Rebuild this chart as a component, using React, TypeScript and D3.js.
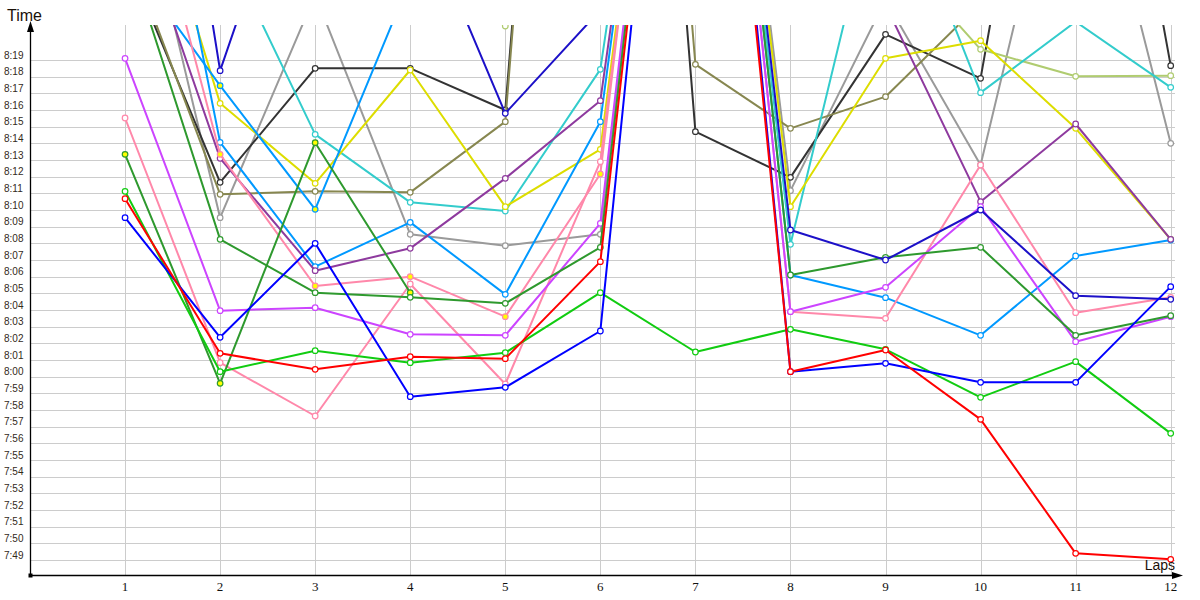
import React from "react";
import * as d3 from "d3";

// ---------- data ----------
const LAPS = [1, 2, 3, 4, 5, 6, 7, 8, 9, 10, 11, 12];
const X_TICK_LABELS = ["1", "2", "3", "4", "5", "6", "7", "8", "9", "10", "11", "12"];
const Y_TICK_LABELS = [
  "7:49", "7:50", "7:51", "7:52", "7:53", "7:54", "7:55", "7:56", "7:57", "7:58", "7:59",
  "8:00", "8:01", "8:02", "8:03", "8:04", "8:05", "8:06", "8:07", "8:08", "8:09",
  "8:10", "8:11", "8:12", "8:13", "8:14", "8:15", "8:16", "8:17", "8:18", "8:19",
];

// lap times in seconds (8:19 = 499); values above ~8:21 run off the top of the plot
const gray = [513.5, 489.54, 502.9, 488.54, 487.86, 488.54, 538, 491.16, 502.6, 492.7, 516.5, 494.0];
const darkGray = [505.3, 491.66, 498.5, 498.5, 496.0, 566, 494.7, 491.96, 500.54, 497.9, 530, 498.66];
const olive = [506.1, 490.94, 491.12, 491.06, 495.3, 567, 498.74, 494.9, 496.8, 502.4, 512, 512];
const lightOlive = [null, null, null, 512, 501.04, 512, 540, 515, 506, 499.64, 498.02, 498.06];
const cyan = [510, 506.4, 494.54, 490.46, 489.94, 498.44, 537, 487.94, 511.5, 497.04, 501.3, 497.36];
const yellow = [515, 496.4, 491.6, 498.4, 490.2, 493.64, 538, 490.2, 499.1, 500.16, 494.9, 488.24];
const lightBlueA = [505.3, 497.46, 490.04, 503.8, null, null, null, null, null, null, null, null];
const lightBlueB = [522.7, 494.06, 486.6, 489.26, 484.94, 495.3, 538, 486.1, 484.74, 482.48, 487.24, 488.2];
const purple = [509.6, 493.1, 486.36, 487.7, 491.9, 496.56, 537, 510, 502.3, 490.5, 495.16, 488.24];
const pinkB = [515, 493.34, 485.44, 486.0, 483.6, 492.16, 540, null, null, null, null, null];
const pinkA = [495.52, 480.84, 477.64, 485.56, 479.56, 492.9, 538, 483.9, 483.5, 492.7, 483.84, 484.76];
const violet = [499.1, 483.96, 484.14, 482.54, 482.48, 489.2, 538, 483.9, 485.36, 490.2, 482.1, 483.6];
const darkGreenB = [493.34, 479.6, 494.04, 485.04, null, null, null, null, null, null, null, null];
const darkGreenA = [505.9, 488.24, 485.04, 484.76, 484.4, 487.76, 538, 486.1, 487.16, 487.76, 482.48, 483.66];
const navy = [534, 498.36, 515, 509.3, 495.8, 502.0, 538, 488.8, 487.0, 490.0, 484.86, 484.64];
const lime = [491.12, 480.3, 481.56, 480.84, 481.44, 485.04, 481.48, 482.84, 481.64, 478.76, 480.9, 476.6];
const blue = [489.54, 482.36, 488.0, 478.8, 479.36, 482.74, 539, 480.3, 480.8, 479.66, 479.66, 485.4];
const red = [490.68, 481.4, 480.44, 481.2, 481.08, 486.9, 537, 480.3, 481.6, 477.44, 469.4, 469.04];

// ---------- styling ----------
type S = { values: (number | null)[]; color: string; fill: string };
const SERIES: S[] = [
  { values: gray, color: "#9a9a9a", fill: "#fff" },
  { values: darkGray, color: "#333333", fill: "#fff" },
  { values: olive, color: "#878750", fill: "#fff" },
  { values: lightOlive, color: "#b0cc70", fill: "#fff" },
  { values: cyan, color: "#33cccc", fill: "#fff" },
  { values: yellow, color: "#dddd00", fill: "#fff" },
  { values: lightBlueA, color: "#0099ff", fill: "#ffff00" },
  { values: lightBlueB, color: "#0099ff", fill: "#fff" },
  { values: purple, color: "#8e3a9e", fill: "#fff" },
  { values: pinkB, color: "#ff88aa", fill: "#ffff00" },
  { values: pinkA, color: "#ff88aa", fill: "#fff" },
  { values: violet, color: "#cc44ff", fill: "#fff" },
  { values: darkGreenB, color: "#2e992e", fill: "#ffff00" },
  { values: darkGreenA, color: "#2e992e", fill: "#fff" },
  { values: navy, color: "#1c10c8", fill: "#fff" },
  { values: lime, color: "#11cc11", fill: "#fff" },
  { values: blue, color: "#0000ff", fill: "#fff" },
  { values: red, color: "#ff0000", fill: "#fff" },
];

const parseTime = (s: string) => {
  const [m, sec] = s.split(":").map(Number);
  return m * 60 + sec;
};

const PLOT_LEFT = 30;
const PLOT_TOP = 25;
const PLOT_RIGHT = 1180;
const PLOT_BOTTOM = 575;

export default function App() {
  const x = d3.scaleLinear().domain([0, 12]).range([30, 1170.7]);
  const y = d3.scaleLinear().domain([469, 499]).range([560, 60]);
  const px = (v: number) => Math.round(v) + 0.5;

  const lineGen = d3
    .line<number | null>()
    .defined((v) => v != null)
    .x((_, i) => x(LAPS[i]))
    .y((v) => y(v as number));

  return (
    <svg
      width={1200}
      height={600}
      style={{ position: "absolute", left: 0, top: 0, background: "#fff" }}
    >
      <defs>
        <clipPath id="plotClip">
          <rect x={PLOT_LEFT} y={PLOT_TOP} width={PLOT_RIGHT - PLOT_LEFT} height={PLOT_BOTTOM - PLOT_TOP} />
        </clipPath>
      </defs>

      {/* grid */}
      <g stroke="#cccccc" strokeWidth={1} shapeRendering="crispEdges">
        {Y_TICK_LABELS.map((t) => (
          <line key={"h" + t} x1={31} x2={1175} y1={px(y(parseTime(t)))} y2={px(y(parseTime(t)))} />
        ))}
        {LAPS.map((l) => (
          <line key={"v" + l} x1={px(x(l))} x2={px(x(l))} y1={PLOT_TOP} y2={PLOT_BOTTOM} />
        ))}
      </g>

      {/* y labels */}
      <g fontFamily="'Liberation Sans', Arial, sans-serif" fontSize={10} fill="#332a1a">
        {Y_TICK_LABELS.map((t) => (
          <text key={"yl" + t} x={4} y={y(parseTime(t)) - 1.5}>
            {t}
          </text>
        ))}
      </g>

      {/* x labels */}
      <g fontFamily="'Liberation Serif', 'Times New Roman', serif" fontSize={13} fill="#111" textAnchor="middle">
        {LAPS.map((l, i) => (
          <text key={"xl" + l} x={x(l)} y={591}>
            {X_TICK_LABELS[i]}
          </text>
        ))}
      </g>

      {/* series */}
      <g clipPath="url(#plotClip)">
        {SERIES.map((s, si) => (
          <g key={"s" + si}>
            <path d={lineGen(s.values) || ""} fill="none" stroke={s.color} strokeWidth={2} strokeLinejoin="round" />
            {s.values.map((v, i) =>
              v == null ? null : (
                <circle key={i} cx={x(LAPS[i])} cy={y(v)} r={2.8} fill={s.fill} stroke={s.color} strokeWidth={1.2} />
              )
            )}
          </g>
        ))}
      </g>

      {/* axes */}
      <line x1={30.5} x2={30.5} y1={PLOT_BOTTOM} y2={30} stroke="#000" strokeWidth={1.3} />
      <polygon points="30.5,21 27,32 34,32" fill="#000" />
      <line x1={30} x2={1176} y1={575.5} y2={575.5} stroke="#000" strokeWidth={1.3} />
      <polygon points="1183,575.5 1172,572 1172,579" fill="#000" />
      <rect x={28.5} y={573.5} width={4} height={4} fill="#000" />

      <text x={7} y={21} fontFamily="'Liberation Sans', Arial, sans-serif" fontSize={16} fill="#1a1008">
        Time
      </text>
      <text x={1175} y={570} textAnchor="end" fontFamily="'Liberation Sans', Arial, sans-serif" fontSize={14} fill="#1a1008">
        Laps
      </text>
    </svg>
  );
}
